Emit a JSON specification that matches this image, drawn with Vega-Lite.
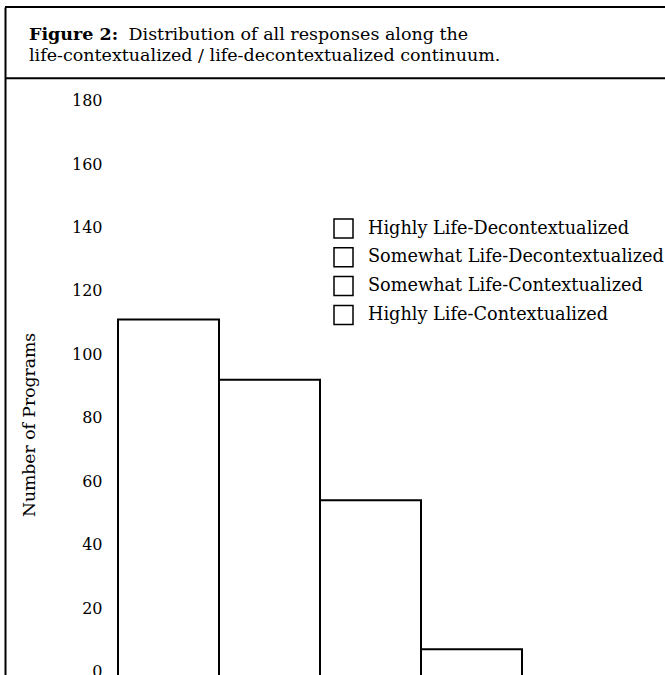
{
  "$schema": "https://vega.github.io/schema/vega-lite/v6.json",
  "autosize": "none",
  "width": 660,
  "height": 668,
  "padding": {"left": 5, "top": 7, "right": 0, "bottom": 0},
  "background": "white",
  "title": {
    "text": "Figure 2:",
    "subtitle": "life-contextualized / life-decontextualized continuum.",
    "anchor": "start",
    "frame": "group",
    "orient": "top",
    "offset": -58,
    "dx": 24,
    "font": "DejaVu Serif",
    "fontSize": 17.5,
    "fontWeight": "bold",
    "color": "black",
    "subtitleFont": "DejaVu Serif",
    "subtitleFontSize": 17.5,
    "subtitleColor": "black",
    "subtitlePadding": 3.5
  },
  "layer": [
    {
      "data": {
        "values": [
          {"response": "Highly Life-Decontextualized", "programs": 111},
          {"response": "Somewhat Life-Decontextualized", "programs": 92},
          {"response": "Somewhat Life-Contextualized", "programs": 54},
          {"response": "Highly Life-Contextualized", "programs": 7}
        ]
      },
      "mark": {"type": "bar", "fill": "white", "stroke": "black", "strokeWidth": 2},
      "encoding": {
        "x": {
          "field": "response",
          "type": "nominal",
          "sort": ["Highly Life-Decontextualized", "Somewhat Life-Decontextualized", "Somewhat Life-Contextualized", "Highly Life-Contextualized"],
          "scale": {"range": [113, 517], "paddingInner": 0, "paddingOuter": 0},
          "axis": {
            "orient": "top",
            "labels": false,
            "ticks": false,
            "grid": false,
            "domain": false,
            "title": "Distribution of all responses along the",
            "titleX": 123,
            "titleY": 32,
            "titleAlign": "left",
            "titleBaseline": "alphabetic",
            "titleAngle": 0,
            "titleFont": "DejaVu Serif",
            "titleFontSize": 17.5,
            "titleFontWeight": "normal",
            "titleColor": "black"
          }
        },
        "y": {
          "field": "programs",
          "type": "quantitative",
          "scale": {"domain": [-1.1, 209.5], "nice": false, "zero": false},
          "axis": {
            "orient": "left",
            "values": [0, 20, 40, 60, 80, 100, 120, 140, 160, 180],
            "domain": true,
            "domainColor": "black",
            "domainWidth": 2,
            "ticks": false,
            "grid": false,
            "labelAlign": "right",
            "labelBaseline": "middle",
            "labelPadding": -97,
            "labelFont": "DejaVu Serif",
            "labelFontSize": 16,
            "labelColor": "black",
            "labelFlush": false,
            "labelOverlap": false,
            "title": "Number of Programs",
            "titleX": 24,
            "titleY": 417.5,
            "titleAngle": 270,
            "titleAlign": "center",
            "titleBaseline": "middle",
            "titleFont": "DejaVu Serif",
            "titleFontSize": 17.2,
            "titleFontWeight": "normal",
            "titleColor": "black"
          }
        },
        "y2": {"datum": -5},
        "fill": {
          "field": "response",
          "type": "nominal",
          "sort": ["Highly Life-Decontextualized", "Somewhat Life-Decontextualized", "Somewhat Life-Contextualized", "Highly Life-Contextualized"],
          "scale": {"range": ["white", "white", "white", "white"]},
          "legend": {
            "orient": "none",
            "legendX": 328,
            "legendY": 211,
            "title": null,
            "symbolType": "square",
            "symbolSize": 361,
            "symbolStrokeColor": "black",
            "symbolStrokeWidth": 1.5,
            "symbolFillColor": "white",
            "labelFont": "DejaVu Serif",
            "labelFontSize": 17.7,
            "labelColor": "black",
            "labelLimit": 500,
            "labelOffset": 14,
            "rowPadding": 3.8,
            "padding": 0
          }
        }
      }
    },
    {
      "data": {"values": [{"line": "frame top"}]},
      "mark": {"type": "rule", "color": "black", "strokeWidth": 2},
      "encoding": {"y": {"datum": 209.5}}
    },
    {
      "data": {"values": [{"line": "header rule"}]},
      "mark": {"type": "rule", "color": "black", "strokeWidth": 2},
      "encoding": {"y": {"datum": 187}}
    }
  ],
  "config": {"view": {"stroke": null}, "font": "DejaVu Serif"}
}
